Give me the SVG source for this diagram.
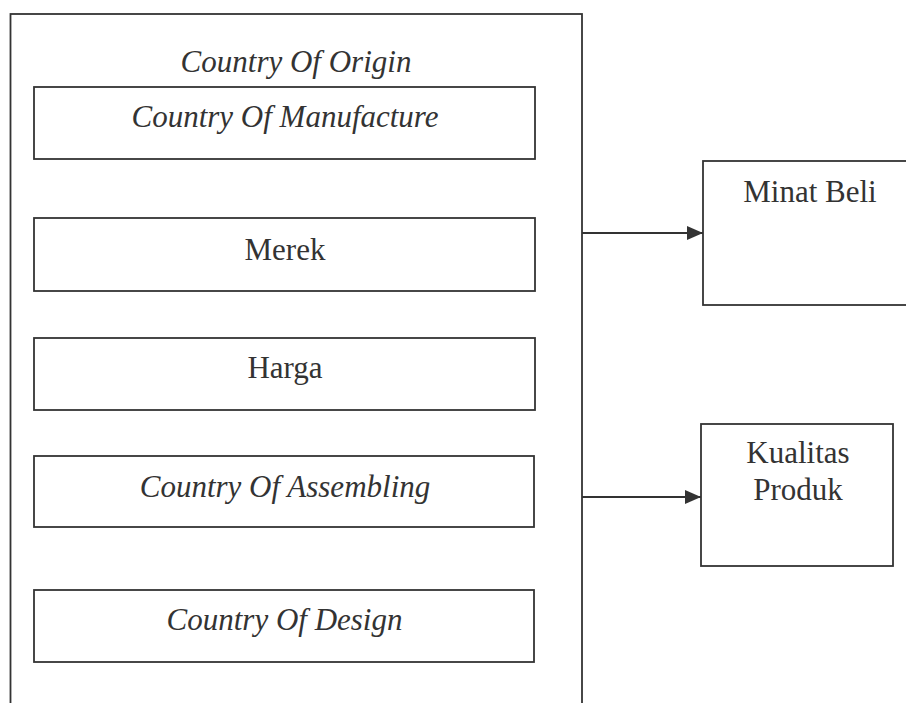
<svg xmlns="http://www.w3.org/2000/svg" width="906" height="703" viewBox="0 0 906 703">
<defs>
<style>
.box{fill:none;stroke:#333;stroke-width:1.8}
.t{font-family:"Liberation Serif","Times New Roman",serif;font-size:31px;fill:#333;text-anchor:middle}
.i{font-style:italic}
.c{stroke:#333;stroke-width:2;fill:none}
</style>
<marker id="ah" markerWidth="16" markerHeight="14" refX="16" refY="7" orient="auto" markerUnits="userSpaceOnUse">
<path d="M0,0 L16,7 L0,14 Z" fill="#333"/>
</marker>
</defs>
<rect width="906" height="703" fill="#fff"/>
<g id="country-of-origin">
<rect class="box" x="10.5" y="14" width="571.5" height="700"/>
<text class="t i" x="296" y="72">Country Of Origin</text>
</g>
<g id="country-of-manufacture">
<rect class="box" x="34" y="87" width="501" height="72"/>
<text class="t i" x="285" y="127">Country Of Manufacture</text>
</g>
<g id="merek">
<rect class="box" x="34" y="218" width="501" height="73"/>
<text class="t" x="285" y="260">Merek</text>
</g>
<g id="harga">
<rect class="box" x="34" y="338" width="501" height="72"/>
<text class="t" x="285" y="378">Harga</text>
</g>
<g id="country-of-assembling">
<rect class="box" x="34" y="456" width="500" height="71"/>
<text class="t i" x="285" y="497">Country Of Assembling</text>
</g>
<g id="country-of-design">
<rect class="box" x="34" y="590" width="500" height="72"/>
<text class="t i" x="284.5" y="630">Country Of Design</text>
</g>
<g id="minat-beli">
<rect class="box" x="703" y="161" width="214" height="144"/>
<text class="t" x="810" y="202">Minat Beli</text>
</g>
<g id="kualitas-produk">
<rect class="box" x="701" y="424" width="192" height="142"/>
<text class="t" x="798" y="463">Kualitas</text>
<text class="t" x="798" y="500">Produk</text>
</g>
<g id="connectors">
<line class="c" x1="582" y1="233" x2="703" y2="233" marker-end="url(#ah)"/>
<line class="c" x1="582" y1="497" x2="701" y2="497" marker-end="url(#ah)"/>
</g>
</svg>
